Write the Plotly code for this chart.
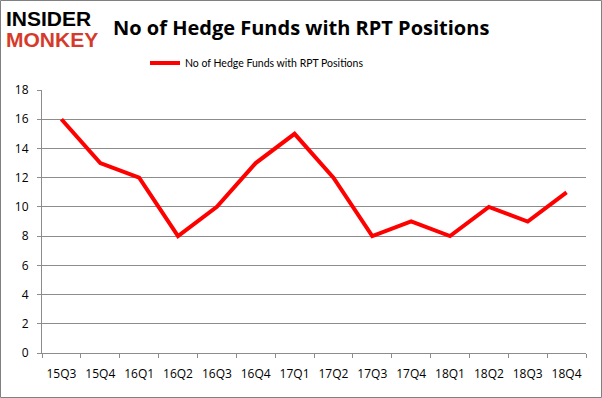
import plotly.graph_objects as go

quarters = ["15Q3", "15Q4", "16Q1", "16Q2", "16Q3", "16Q4", "17Q1", "17Q2",
            "17Q3", "17Q4", "18Q1", "18Q2", "18Q3", "18Q4"]
funds = [16, 13, 12, 8, 10, 13, 15, 12, 8, 9, 8, 10, 9, 11]
series_name = "No of Hedge Funds with RPT Positions"
title_text = "No of Hedge Funds with RPT Positions"

W, H = 602, 398
L, R, T, B = 42, 16, 90, 45
pw, ph = W - L - R, H - T - B

fig = go.Figure()
fig.add_trace(go.Scatter(x=quarters, y=funds, mode="lines", name=series_name,
                         line=dict(color="#ff0000", width=4)))

def px_x(p):
    return (p - L) / pw

def px_y(p):
    return (H - p - B) / ph

fig.update_layout(
    width=W, height=H,
    margin=dict(l=L, r=R, t=T, b=B),
    paper_bgcolor="white", plot_bgcolor="white",
    showlegend=True,
    legend=dict(orientation="h", x=px_x(145), xanchor="left", y=px_y(63), yanchor="middle",
                font=dict(family="Lato", size=10.5, color="#000000")),
    xaxis=dict(type="category", showgrid=False, showline=True, linecolor="#8c8c8c",
               linewidth=1, ticks="outside", tickson="boundaries", ticklen=4,
               tickcolor="#8c8c8c", ticklabelstandoff=10, tickangle=0, automargin=False,
               tickfont=dict(family="Open Sans", size=12, color="#000000"),
               range=[-0.5, 13.5]),
    yaxis=dict(range=[0, 18], dtick=2, showgrid=True, gridcolor="#8c8c8c", gridwidth=1,
               showline=True, linecolor="#8c8c8c", ticks="outside", ticklen=4,
               tickcolor="#8c8c8c", zeroline=False, ticklabelstandoff=6, automargin=False,
               tickfont=dict(family="Open Sans", size=12, color="#000000")),
    shapes=[dict(type="rect", xref="paper", yref="paper",
                 x0=px_x(0.5), x1=px_x(601.5), y0=px_y(397.5), y1=px_y(0.5),
                 line=dict(color="#808080", width=1), fillcolor="rgba(0,0,0,0)", layer="below")],
    annotations=[
        dict(text="<b>" + title_text + "</b>", xref="paper", yref="paper",
             x=px_x(301), y=px_y(27), xanchor="center", yanchor="middle", showarrow=False,
             font=dict(family="Open Sans", size=20, color="#000000")),
        dict(text="<b>INSIDER</b>", xref="paper", yref="paper",
             x=px_x(4), y=px_y(18), xanchor="left", yanchor="middle", showarrow=False,
             font=dict(family="Liberation Sans", size=21, color="#000000")),
        dict(text="<b>MONKEY</b>", xref="paper", yref="paper",
             x=px_x(4), y=px_y(40), xanchor="left", yanchor="middle", showarrow=False,
             font=dict(family="Liberation Sans", size=21, color="#d63a2a")),
    ],
)

fig.write_html("out.html", config={"displayModeBar": False},
               post_script="document.body.style.margin='0';")
